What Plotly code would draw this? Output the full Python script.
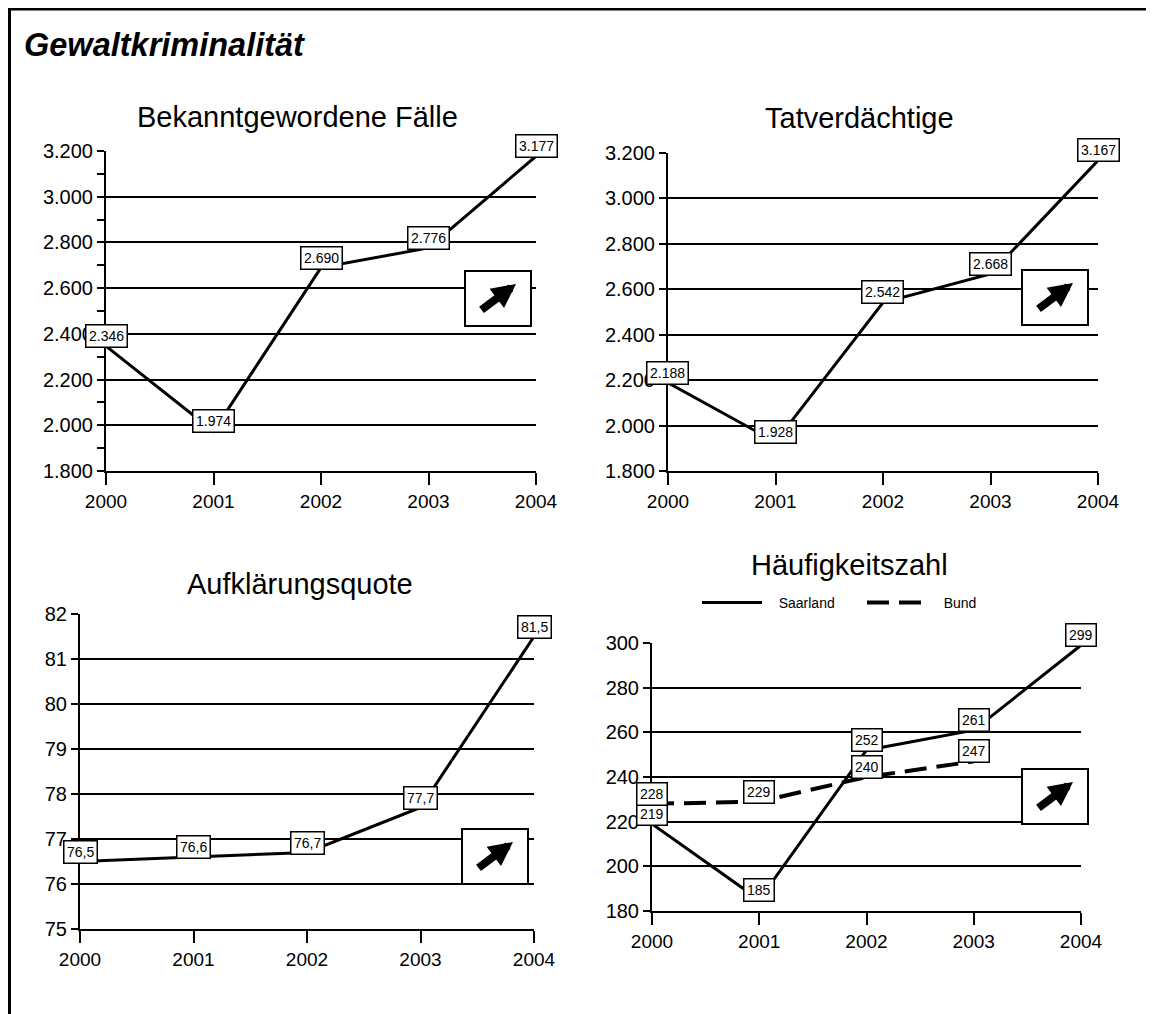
import plotly.graph_objects as go

W, H = 1154, 1014
OFF = 8  # the page body margin shifts the figure by 8px

years = [2000, 2001, 2002, 2003, 2004]
bund_years = [2000, 2001, 2002, 2003]
faelle = [2346, 1974, 2690, 2776, 3177]
tatverdaechtige = [2188, 1928, 2542, 2668, 3167]
aufklaerung = [76.5, 76.6, 76.7, 77.7, 81.5]
hz_saarland = [219, 185, 252, 261, 299]
hz_bund = [228, 229, 240, 247]

main_title = "Gewaltkriminalität"
panel_titles = ["Bekanntgewordene Fälle", "Tatverdächtige", "Aufklärungsquote", "Häufigkeitszahl"]
legend_names = ["Saarland", "Bund"]

FONT = "Liberation Sans, Arial, sans-serif"
NBSP = "\u00a0"


def px(x):
    return (x - OFF) / W


def py(y):
    return 1 - (y - OFF) / H


def fmt_int(v):
    return f"{v:,}".replace(",", ".")


def fmt_dec(v):
    return f"{v:.1f}".replace(".", ",")


# Pixel layout of each panel: plot area, y-range, title centre, arrow box corner
panels = [
    dict(x0=106, x1=536, top=151, bottom=471, yr=[1800, 3200], dtick=200, minor=True,
         title=(297, 117), box=(465, 271)),
    dict(x0=668, x1=1098, top=153, bottom=471, yr=[1800, 3200], dtick=200, minor=False,
         title=(859, 118), box=(1022, 270)),
    dict(x0=80, x1=534, top=614, bottom=929, yr=[75, 82], dtick=1, minor=False,
         title=(300, 584), box=(462, 829)),
    dict(x0=652, x1=1081, top=643, bottom=911, yr=[180, 300], dtick=20, minor=False,
         title=(850, 565), box=(1022, 769)),
]

series = [
    [(panel_titles[0], years, faelle, "solid", 3, fmt_int, False)],
    [(panel_titles[1], years, tatverdaechtige, "solid", 3, fmt_int, False)],
    [(panel_titles[2], years, aufklaerung, "solid", 3, fmt_dec, False)],
    [(legend_names[0], years, hz_saarland, "solid", 3, fmt_int, True),
     (legend_names[1], bund_years, hz_bund, "22px,10px", 4, fmt_int, True)],
]

fig = go.Figure()
annotations = []
shapes = []

for i, (p, sers) in enumerate(zip(panels, series), start=1):
    xa, ya = f"x{i}", f"y{i}"
    for name, xs, ys, dash, lw, fmt, legend in sers:
        fig.add_trace(go.Scatter(
            x=xs, y=ys, name=NBSP * 3 + name if legend else name,
            mode="lines", xaxis=xa, yaxis=ya,
            line=dict(color="black", width=lw, dash=dash),
            showlegend=legend, hoverinfo="skip",
        ))
        for xv, yv in zip(xs, ys):
            annotations.append(dict(
                x=xv, y=yv, xref=xa, yref=ya, text=fmt(yv), showarrow=False,
                yshift=10, font=dict(size=14, color="black", family=FONT),
                bgcolor="white", bordercolor="black", borderwidth=1.5, borderpad=2.5,
            ))

    xkey = "xaxis" if i == 1 else f"xaxis{i}"
    ykey = "yaxis" if i == 1 else f"yaxis{i}"
    fig.layout[xkey] = dict(
        domain=[px(p["x0"]), px(p["x1"])], anchor=ya, range=[2000, 2004],
        tickvals=years, tickformat="d", ticks="outside", ticklen=12, tickwidth=2,
        tickcolor="black", showline=True, linewidth=2, linecolor="black",
        showgrid=False, zeroline=False, tickfont=dict(size=19, color="black"),
        fixedrange=True, automargin=False,
    )
    yaxis = dict(
        domain=[py(p["bottom"]), py(p["top"])], anchor=xa, range=p["yr"],
        dtick=p["dtick"], tick0=p["yr"][0], tickformat=",d", ticks="outside",
        ticklen=7, tickwidth=2, tickcolor="black", showline=True, linewidth=2,
        linecolor="black", showgrid=True, gridcolor="black", gridwidth=1.5,
        zeroline=False, tickfont=dict(size=20, color="black"), fixedrange=True,
        automargin=False,
    )
    if p["minor"]:
        yaxis["minor"] = dict(dtick=100, ticks="outside", ticklen=7, tickwidth=2,
                              tickcolor="black", showgrid=False)
    fig.layout[ykey] = yaxis

    tx, ty = p["title"]
    annotations.append(dict(
        x=px(tx), y=py(ty), xref="paper", yref="paper", text=panel_titles[i - 1],
        showarrow=False, xanchor="center", yanchor="middle",
        font=dict(size=29, color="black", family=FONT),
    ))

    # trend box with arrow
    bx, by = p["box"]
    shapes.append(dict(
        type="rect", xref="paper", yref="paper",
        x0=px(bx), x1=px(bx + 66), y0=py(by + 55), y1=py(by),
        fillcolor="white", line=dict(color="black", width=2), layer="above",
    ))
    annotations.append(dict(
        x=px(bx + 51), y=py(by + 13), xref="paper", yref="paper", text="",
        showarrow=True, ax=-36, ay=27, arrowhead=2, arrowsize=0.6,
        arrowwidth=8, arrowcolor="black", standoff=0, startstandoff=0,
    ))

annotations.append(dict(
    x=px(22), y=py(45), xref="paper", yref="paper",
    text=f"<b><i>{main_title}</i></b>", showarrow=False,
    xanchor="left", yanchor="middle", font=dict(size=32.5, color="black", family=FONT),
))

# outer frame (top and left edge)
shapes.append(dict(type="line", xref="paper", yref="paper",
                   x0=px(9.5), x1=px(9.5), y0=0, y1=py(9),
                   line=dict(color="black", width=3)))
shapes.append(dict(type="line", xref="paper", yref="paper",
                   x0=px(8), x1=1, y0=py(9), y1=py(9),
                   line=dict(color="black", width=3)))

fig.update_layout(
    width=W, height=H,
    margin=dict(l=0, r=0, t=0, b=0, pad=0, autoexpand=False),
    paper_bgcolor="white", plot_bgcolor="white",
    font=dict(family=FONT, color="black"),
    separators=",.",
    annotations=annotations, shapes=shapes,
    legend=dict(
        orientation="h", x=px(697), xanchor="left", y=py(603), yanchor="middle",
        font=dict(size=14, color="black"), bgcolor="rgba(0,0,0,0)",
        itemwidth=60, entrywidth=90,
    ),
)

fig.write_html("out.html")
